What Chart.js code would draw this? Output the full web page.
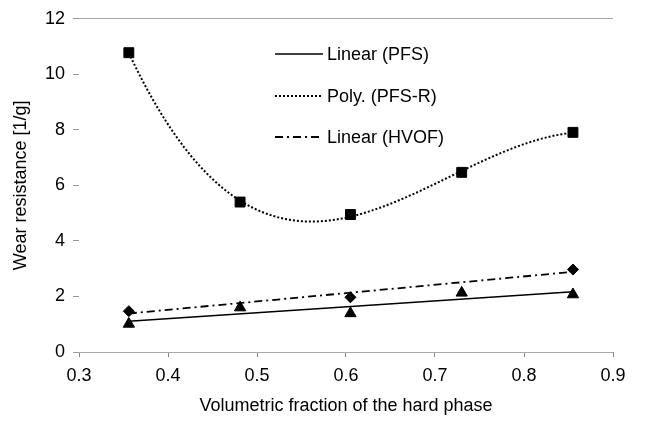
<!DOCTYPE html>
<html>
<head>
<meta charset="utf-8">
<script src="https://cdn.jsdelivr.net/npm/chart.js@4"></script>
<style>
  html, body { margin: 0; padding: 0; background: #fff; }
  #wrap { width: 656px; height: 423px; position: relative; }
</style>
</head>
<body>
<div id="wrap"><canvas id="c" width="656" height="423"></canvas></div>
<script>
// ---- data ----
const fractionX = [0.356, 0.481, 0.605, 0.730, 0.855];   // volumetric fraction of hard phase
const pfsR = [10.78, 5.40, 4.95, 6.47, 7.91];            // PFS-R (squares)
const pfs = [1.01, 1.60, 1.39, 2.13, 2.07];              // PFS (triangles)
const hvofX = [0.356, 0.605, 0.855];
const hvof = [1.47, 1.97, 2.97];                          // HVOF (diamonds)
const yTicks = [0, 2, 4, 6, 8, 10, 12];
const xTicks = [0.3, 0.4, 0.5, 0.6, 0.7, 0.8, 0.9];
const legendLabels = ['Linear (PFS)', 'Poly. (PFS-R)', 'Linear (HVOF)'];

// ---- least-squares trendlines (as the spreadsheet trendlines) ----
function polyfit(xs, ys, order) {
  const n = order + 1;
  const A = Array.from({length: n}, () => new Array(n + 1).fill(0));
  for (let r = 0; r < n; r++) {
    for (let c = 0; c < n; c++) A[r][c] = xs.reduce((s, x) => s + Math.pow(x, r + c), 0);
    A[r][n] = xs.reduce((s, x, i) => s + ys[i] * Math.pow(x, r), 0);
  }
  for (let i = 0; i < n; i++) {
    let p = i;
    for (let k = i + 1; k < n; k++) if (Math.abs(A[k][i]) > Math.abs(A[p][i])) p = k;
    [A[i], A[p]] = [A[p], A[i]];
    for (let k = 0; k < n; k++) {
      if (k === i) continue;
      const f = A[k][i] / A[i][i];
      for (let j = i; j <= n; j++) A[k][j] -= f * A[i][j];
    }
  }
  return A.map((row, i) => row[n] / row[i]);
}
const evalPoly = (c, x) => c.reduce((s, a, i) => s + a * Math.pow(x, i), 0);
function trend(xs, ys, order, steps) {
  const c = polyfit(xs, ys, order);
  const x0 = Math.min(...xs), x1 = Math.max(...xs);
  const pts = [];
  for (let i = 0; i <= steps; i++) {
    const x = x0 + (x1 - x0) * i / steps;
    pts.push({x, y: evalPoly(c, x)});
  }
  return pts;
}
const toPts = (xs, ys) => xs.map((x, i) => ({x, y: ys[i]}));

const FONT = '"Liberation Sans", Arial, sans-serif';
const styles = [
  {dash: [], width: 1.6},
  {dash: [2, 2], width: 2},
  {dash: [8, 4, 2, 4], width: 1.8}
];

const legendPlugin = {
  id: 'insideLegend',
  afterDatasetsDraw(chart) {
    const ctx = chart.ctx;
    const rowsY = [54, 96, 137];
    ctx.save();
    ctx.font = '18px ' + FONT;
    ctx.fillStyle = '#000';
    ctx.textBaseline = 'middle';
    legendLabels.forEach((lab, i) => {
      const y = rowsY[i];
      ctx.beginPath();
      ctx.setLineDash(styles[i].dash);
      ctx.lineWidth = styles[i].width;
      ctx.strokeStyle = '#000';
      ctx.moveTo(275, y);
      ctx.lineTo(323, y);
      ctx.stroke();
      ctx.setLineDash([]);
      ctx.fillText(lab, 327, y + 1);
    });
    ctx.restore();
  }
};

new Chart(document.getElementById('c'), {
  type: 'scatter',
  data: {
    datasets: [
      {label: 'PFS-R', data: toPts(fractionX, pfsR), pointStyle: 'rect', pointRadius: 7,
       backgroundColor: '#000', borderColor: '#000', showLine: false, order: 0},
      {label: 'PFS', data: toPts(fractionX, pfs), pointStyle: 'triangle', pointRadius: 6.5,
       backgroundColor: '#000', borderColor: '#000', showLine: false, order: 0},
      {label: 'HVOF', data: toPts(hvofX, hvof), pointStyle: 'rectRot', pointRadius: 5.5,
       backgroundColor: '#000', borderColor: '#000', showLine: false, order: 0},
      {label: legendLabels[0], data: trend(fractionX, pfs, 1, 2), showLine: true, pointRadius: 0,
       borderColor: '#000', borderWidth: styles[0].width, borderDash: styles[0].dash, order: 1},
      {label: legendLabels[1], data: trend(fractionX, pfsR, 3, 120), showLine: true, pointRadius: 0,
       borderColor: '#000', borderWidth: styles[1].width, borderDash: styles[1].dash, order: 1, tension: 0},
      {label: legendLabels[2], data: trend(hvofX, hvof, 1, 2), showLine: true, pointRadius: 0,
       borderColor: '#000', borderWidth: styles[2].width, borderDash: styles[2].dash, order: 1}
    ]
  },
  options: {
    responsive: false,
    animation: false,
    devicePixelRatio: 1,
    layout: {padding: {top: 18, right: 43, bottom: 0, left: 0}},
    plugins: {legend: {display: false}, tooltip: {enabled: false}},
    scales: {
      x: {
        type: 'linear', min: 0.3, max: 0.9,
        afterBuildTicks: s => { s.ticks = xTicks.map(v => ({value: v})); },
        afterFit: s => { s.height = 71; },
        ticks: {font: {size: 18, family: FONT}, color: '#000', padding: 8,
                callback: v => Number(v).toFixed(1), maxRotation: 0},
        grid: {color: 'transparent', tickColor: '#888', tickLength: 5, drawOnChartArea: false},
        border: {display: false},
        title: {display: true, text: 'Volumetric fraction of the hard phase',
                font: {size: 18, family: FONT}, color: '#000', padding: {top: 4, bottom: 6}}
      },
      y: {
        min: 0, max: 12,
        afterBuildTicks: s => { s.ticks = yTicks.map(v => ({value: v})); },
        afterFit: s => { s.width = 79; },
        ticks: {font: {size: 18, family: FONT}, color: '#000', padding: 8},
        grid: {color: c => (c.tick && (c.tick.value === 0 || c.tick.value === 12)) ? '#a8a8a8' : 'transparent',
               tickColor: '#999', tickLength: 6},
        border: {display: false},
        title: {display: true, text: 'Wear resistance [1/g]',
                font: {size: 18, family: FONT}, color: '#000', padding: {top: 10, bottom: 0}}
      }
    }
  },
  plugins: [legendPlugin]
});
</script>
</body>
</html>
